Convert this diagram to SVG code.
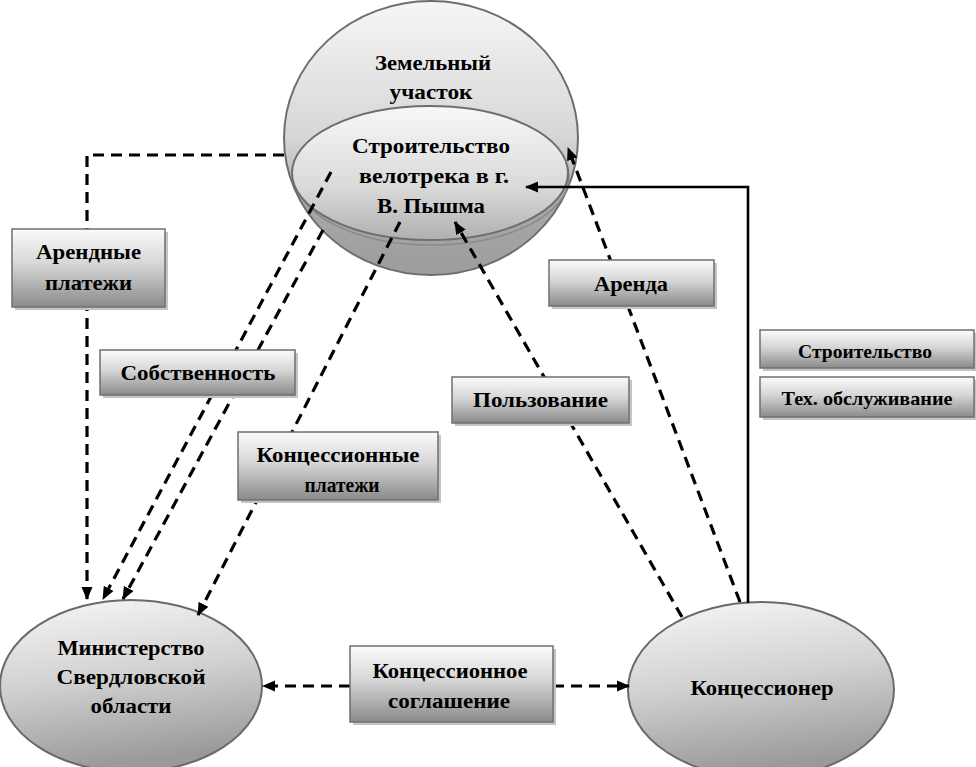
<svg xmlns="http://www.w3.org/2000/svg" width="976" height="767" viewBox="0 0 976 767">
<defs>
  <linearGradient id="gBox" x1="0" y1="0" x2="0" y2="1">
    <stop offset="0" stop-color="#fbfbfb"/>
    <stop offset="0.45" stop-color="#d6d6d6"/>
    <stop offset="1" stop-color="#8a8a8a"/>
  </linearGradient>
  <linearGradient id="gEll" x1="0" y1="0" x2="0.2" y2="1">
    <stop offset="0" stop-color="#f7f7f7"/>
    <stop offset="0.5" stop-color="#d2d2d2"/>
    <stop offset="1" stop-color="#9a9a9a"/>
  </linearGradient>
  <linearGradient id="gSphere" x1="0" y1="0" x2="0" y2="1">
    <stop offset="0" stop-color="#f6f6f6"/>
    <stop offset="0.5" stop-color="#d6d6d6"/>
    <stop offset="0.75" stop-color="#a8a8a8"/>
    <stop offset="1" stop-color="#9c9c9c"/>
  </linearGradient>
  <linearGradient id="gInner" x1="0" y1="0" x2="0" y2="1">
    <stop offset="0" stop-color="#f8f8f8"/>
    <stop offset="0.6" stop-color="#dadada"/>
    <stop offset="1" stop-color="#b0b0b0"/>
  </linearGradient>
  <marker id="arr" markerUnits="userSpaceOnUse" markerWidth="13" markerHeight="12" refX="12" refY="5.5" orient="auto" viewBox="0 0 13 11">
    <path d="M0,0 L13,5.5 L0,11 z" fill="#000"/>
  </marker>
</defs>
<style>
  .t { font-family: "Liberation Serif", "Times New Roman", serif; font-weight: bold; font-size: 22px; fill: #000; text-anchor: middle; }
  .ts { font-size: 19px; }
  .box { fill: url(#gBox); stroke: #6f6f6f; stroke-width: 1.5; }
  .sh { fill: #c4c4c4; }
  .ell { fill: url(#gEll); stroke: #6a6a6a; stroke-width: 2; }
  .dash { fill: none; stroke: #000; stroke-width: 3.2; stroke-dasharray: 11 7; }
  .solid { fill: none; stroke: #000; stroke-width: 2.6; }
</style>

<g id="node-land">
  <ellipse cx="431" cy="138" rx="147" ry="137" fill="url(#gSphere)" stroke="#6e6e6e" stroke-width="2"/>
  <ellipse cx="432" cy="177" rx="137" ry="68" fill="none" stroke="#8a8a8a" stroke-width="1.5"/>
  <ellipse cx="430" cy="173" rx="138" ry="67" fill="url(#gInner)" stroke="#6e6e6e" stroke-width="2"/>
  <text class="t" x="433" y="70" textLength="116" lengthAdjust="spacingAndGlyphs">Земельный</text>
  <text class="t" x="431" y="99" textLength="83" lengthAdjust="spacingAndGlyphs">участок</text>
  <text class="t" x="431" y="153" textLength="158" lengthAdjust="spacingAndGlyphs">Строительство</text>
  <text class="t" x="434" y="183" textLength="150" lengthAdjust="spacingAndGlyphs">велотрека в г.</text>
  <text class="t" x="431" y="213" textLength="108" lengthAdjust="spacingAndGlyphs">В. Пышма</text>
</g>

<g id="node-ministry">
  <ellipse class="ell" cx="131" cy="686" rx="131" ry="86"/>
  <text class="t" x="131" y="655" textLength="147" lengthAdjust="spacingAndGlyphs">Министерство</text>
  <text class="t" x="131" y="684" textLength="149" lengthAdjust="spacingAndGlyphs">Свердловской</text>
  <text class="t" x="131" y="713" textLength="81" lengthAdjust="spacingAndGlyphs">области</text>
</g>

<g id="node-concessionaire">
  <ellipse class="ell" cx="761" cy="690" rx="133" ry="88"/>
  <text class="t" x="762" y="695" textLength="143" lengthAdjust="spacingAndGlyphs">Концессионер</text>
</g>

<g id="connectors">
  <path class="dash" d="M284,155 H87 V599" marker-end="url(#arr)"/>
  <path class="dash" d="M331,172 L103,599" marker-end="url(#arr)"/>
  <path class="dash" d="M323,230 L123,599" marker-end="url(#arr)"/>
  <path class="dash" d="M400,222 L198,615" marker-end="url(#arr)"/>
  <path class="dash" d="M682,617 L455,222" marker-end="url(#arr)"/>
  <path class="dash" d="M740,602 L568,148" marker-end="url(#arr)"/>
  <path class="solid" d="M748,603 V187 H526" marker-end="url(#arr)"/>
  <path class="dash" d="M350,686 H263" marker-end="url(#arr)"/>
  <path class="dash" d="M553,686 H629" marker-end="url(#arr)"/>
</g>

<g id="box-rent-payments">
  <rect class="sh" x="15" y="232" width="153" height="78"/>
  <rect class="box" x="12" y="229" width="153" height="78"/>
  <text class="t" x="88.5" y="259" textLength="105" lengthAdjust="spacingAndGlyphs">Арендные</text>
  <text class="t" x="88.5" y="290" textLength="87" lengthAdjust="spacingAndGlyphs">платежи</text>
</g>

<g id="box-ownership">
  <rect class="sh" x="103" y="353" width="195" height="45"/>
  <rect class="box" x="100" y="350" width="195" height="45"/>
  <text class="t" x="198" y="380" textLength="155" lengthAdjust="spacingAndGlyphs">Собственность</text>
</g>

<g id="box-concession-payments">
  <rect class="sh" x="241" y="435" width="200" height="68"/>
  <rect class="box" x="238" y="432" width="200" height="68"/>
  <text class="t" x="338" y="462" textLength="163" lengthAdjust="spacingAndGlyphs">Концессионные</text>
  <text class="t" x="342" y="492" textLength="75" lengthAdjust="spacingAndGlyphs">платежи</text>
</g>

<g id="box-lease">
  <rect class="sh" x="552" y="263" width="165" height="46"/>
  <rect class="box" x="549" y="260" width="165" height="46"/>
  <text class="t" x="631" y="291" textLength="74" lengthAdjust="spacingAndGlyphs">Аренда</text>
</g>

<g id="box-use">
  <rect class="sh" x="455" y="380" width="177" height="46"/>
  <rect class="box" x="452" y="377" width="177" height="46"/>
  <text class="t" x="540.5" y="407" textLength="135" lengthAdjust="spacingAndGlyphs">Пользование</text>
</g>

<g id="box-construction">
  <rect class="sh" x="763" y="333" width="213" height="38"/>
  <rect class="box" x="760" y="330" width="214" height="38"/>
  <text class="t ts" x="865" y="358" textLength="134" lengthAdjust="spacingAndGlyphs">Строительство</text>
</g>

<g id="box-maintenance">
  <rect class="sh" x="763" y="380" width="213" height="40"/>
  <rect class="box" x="760" y="377" width="214" height="40"/>
  <text class="t ts" x="867" y="405" textLength="171" lengthAdjust="spacingAndGlyphs">Тех. обслуживание</text>
</g>

<g id="box-agreement">
  <rect class="sh" x="353" y="649" width="203" height="76"/>
  <rect class="box" x="350" y="646" width="203" height="76"/>
  <text class="t" x="450" y="678" textLength="155" lengthAdjust="spacingAndGlyphs">Концессионное</text>
  <text class="t" x="449" y="708" textLength="122" lengthAdjust="spacingAndGlyphs">соглашение</text>
</g>
</svg>
